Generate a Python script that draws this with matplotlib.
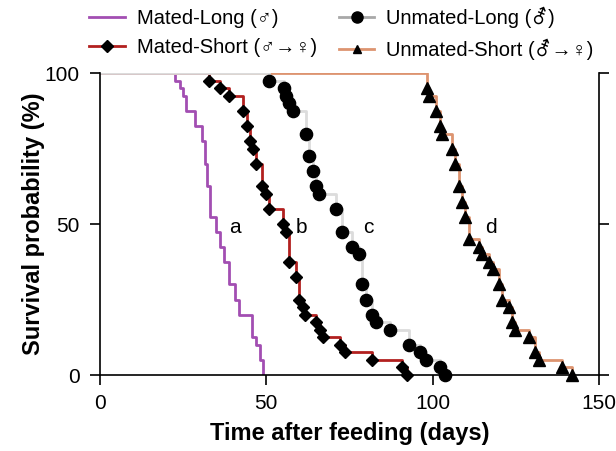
import matplotlib
matplotlib.use("Agg")
import matplotlib.pyplot as plt
from matplotlib.lines import Line2D

plt.rcParams['font.family'] = ['Liberation Sans', 'DejaVu Sans']

# death times (days) and survival (%) after each event
ml_days = [22.6, 24.2, 25.1, 26.0, 28.6, 30.7, 31.6, 32.2, 33.2, 34.8, 36.2, 37.2, 38.7,
           40.7, 41.7, 45.7, 47.0, 48.0, 49.0]
ml_surv = [97.5, 95, 92.5, 87.5, 82.5, 77.5, 70, 62.5, 52.5, 47.5, 42.5, 37.5, 30,
           25, 20, 12.5, 10, 5, 0]

ms_days = [32.8, 36.2, 38.9, 42.9, 44.2, 45.0, 46.0, 47.0, 48.7, 50.0, 50.9, 55.0, 56.0,
           56.8, 59.0, 59.7, 61.0, 61.7, 64.9, 66.0, 67.0, 72.0, 73.7, 81.8, 90.8, 92.1]
ms_surv = [97.5, 95, 92.5, 87.5, 82.5, 77.5, 75, 70, 62.5, 60, 55, 50, 47.5,
           37.5, 32.5, 25, 22.5, 20, 17.5, 15, 12.5, 10, 7.5, 5, 2.5, 0]

ul_days = [50.9, 55.2, 55.9, 56.7, 57.9, 61.9, 62.9, 63.9, 64.9, 65.9, 70.8, 72.8,
           75.8, 77.8, 78.8, 79.9, 81.8, 82.8, 87.0, 92.9, 96.0, 97.8, 102.1, 103.8]
ul_surv = [97.5, 95, 92.5, 90, 87.5, 80, 72.5, 67.5, 62.5, 60, 55, 47.5,
           42.5, 40, 30, 25, 20, 17.5, 15, 10, 7.5, 5, 2.5, 0]

us_days = [98.1, 98.8, 100.8, 102.1, 102.8, 105.8, 106.8, 107.8, 108.8, 109.8, 110.8,
           113.8, 114.8, 116.8, 118.1, 119.8, 120.8, 122.8, 123.8, 124.8, 128.8,
           130.8, 131.8, 138.9, 141.9]
us_surv = [95, 92.5, 87.5, 82.5, 80, 75, 70, 62.5, 57.5, 52.5, 45,
           42.5, 40, 37.5, 35, 30, 25, 22.5, 17.5, 15, 12.5,
           7.5, 5, 2.5, 0]

labels = ['Mated-Long (♂)', 'Mated-Short (♂→♀)', 'Unmated-Long (⚦)', 'Unmated-Short (⚦→♀)']
letters = ['a', 'b', 'c', 'd']
letter_x = [40.5, 60.5, 80.5, 117.5]

c_ml = '#a24eb2'
c_ms = '#b2201f'
c_ul = '#dcdcdc'
c_us = '#dd9470'

fig = plt.figure(figsize=(6.16, 4.51), dpi=100)
ax = fig.add_axes([0.162, 0.1685, 0.811, 0.669])

lw = 2.0
ax.step([0] + us_days, [100] + us_surv, where='post', color=c_us, lw=lw, zorder=2)
ax.step([0] + ml_days, [100] + ml_surv, where='post', color=c_ml, lw=lw, zorder=2)
ax.step([0] + ms_days, [100] + ms_surv, where='post', color=c_ms, lw=lw, zorder=2)
ax.step([0] + ul_days, [100] + ul_surv, where='post', color=c_ul, lw=lw, zorder=2)

ax.plot(ms_days, ms_surv, 'D', color='black', ms=6.3, ls='none', zorder=4, clip_on=False)
ax.plot(ul_days, ul_surv, 'o', color='black', ms=8.8, ls='none', zorder=4, clip_on=False)
ax.plot(us_days, us_surv, '^', color='black', ms=8, ls='none', zorder=4, clip_on=False)

for lx, lt in zip(letter_x, letters):
    ax.text(lx, 49, lt, fontsize=15, ha='center', va='center')

ax.set_xlim(0, 150)
ax.set_ylim(0, 100)
ax.set_xticks([0, 50, 100, 150])
ax.set_yticks([0, 50, 100])
ax.spines['top'].set_visible(False)
for sp in ['left', 'bottom', 'right']:
    ax.spines[sp].set_linewidth(1.2)
ax.tick_params(axis='both', direction='out', length=7.5, width=1.2, labelsize=15)
ax.tick_params(axis='x', pad=6)
ax.tick_params(axis='y', pad=7, right=True, labelright=False)
ax.set_xlabel('Time after feeding (days)', fontsize=17, fontweight='bold', labelpad=7)
ax.set_ylabel('Survival probability (%)', fontsize=17, fontweight='bold', labelpad=0)

handles = [
    Line2D([], [], color=c_ml, lw=2),
    Line2D([], [], color=c_ms, lw=2, marker='D', mfc='black', mec='black', ms=6),
    Line2D([], [], color='#a8a8a8', lw=2, marker='o', mfc='black', mec='black', ms=8),
    Line2D([], [], color=c_us, lw=2, marker='^', mfc='black', mec='black', ms=6),
]
fig.legend(handles, labels, ncol=2, loc='upper left', bbox_to_anchor=(0.145, 0.985),
           frameon=False, fontsize=14.5, handlelength=1.75, handletextpad=0.6,
           columnspacing=1.1, labelspacing=0.5, borderpad=0, borderaxespad=0)

fig.savefig('out.png', dpi=100)
